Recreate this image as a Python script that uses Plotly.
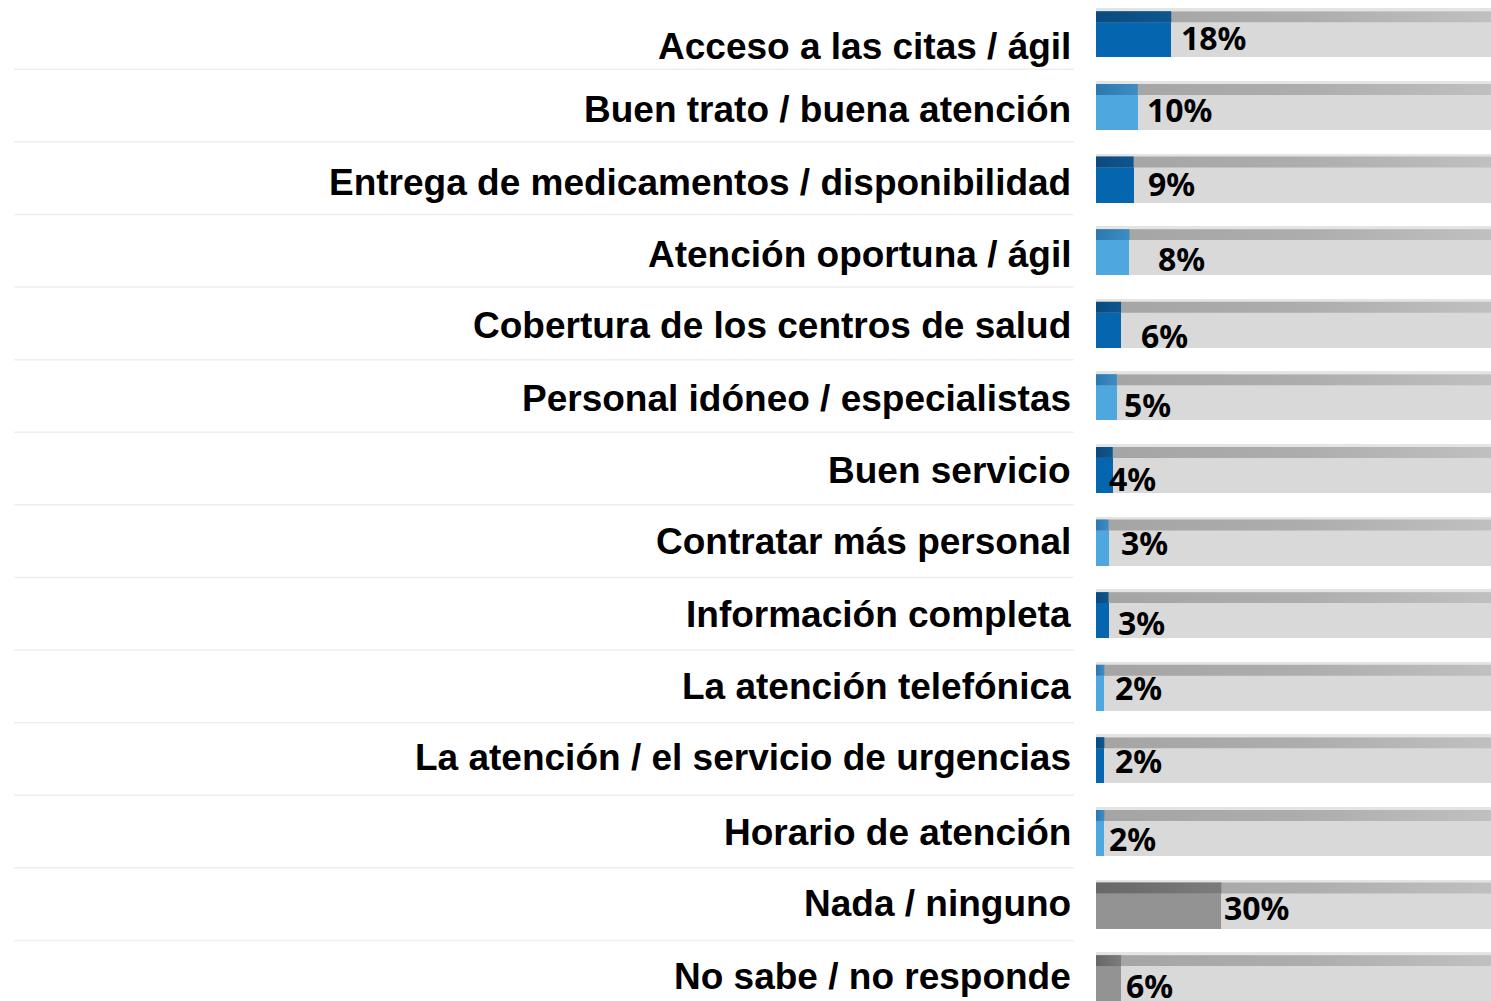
import plotly.graph_objects as go

# Survey answers and their share of respondents (%)
categories = [
    "Acceso a las citas / ágil",
    "Buen trato / buena atención",
    "Entrega de medicamentos / disponibilidad",
    "Atención oportuna / ágil",
    "Cobertura de los centros de salud",
    "Personal idóneo / especialistas",
    "Buen servicio",
    "Contratar más personal",
    "Información completa",
    "La atención telefónica",
    "La atención / el servicio de urgencias",
    "Horario de atención",
    "Nada / ninguno",
    "No sabe / no responde",
]
values = [18, 10, 9, 8, 6, 5, 4, 3, 3, 2, 2, 2, 30, 6]

# Styling per row
DARK, LIGHT, GREY = "#0565ae", "#4ea8df", "#939393"
DARK_TOP = ("#0a4a7e", "#0e5690")
LIGHT_TOP = ("#2c78ae", "#3d8dc4")
GREY_TOP = ("#676767", "#7c7c7c")
body_colors = [DARK, LIGHT] * 6 + [GREY, GREY]
top_colors = [DARK_TOP, LIGHT_TOP] * 6 + [GREY_TOP, GREY_TOP]

# Small pixel nudges for the text labels
value_dx = [8, 7, 12, 27, 18, 5, -6, 10, 7, 9, 9, 3, 1, 3]
value_dy = [-3, -2, -4, -6, -11, -7, -8, 0, -7, 0, 0, -5, -2, -7]
label_dy = [-12, -2, -3, -2, -1, -1, 0, 1, 1, 1, 3, 1, 2, 2]

TRACK_MAX = 100
BAR_W = 0.634
STRIP_W = 0.15
EDGE_W = 0.04

ypos = list(range(len(categories)))
n = len(categories)


def strip_polygon(rows, x_right):
    """Outline of the top strip of each bar, joined with gaps."""
    xs, ys = [], []
    for y, xr in zip(rows, x_right):
        y0 = y - BAR_W / 2
        y1 = y0 + STRIP_W
        xs += [0, xr, xr, 0, 0, None]
        ys += [y0, y0, y1, y1, y0, None]
    return xs, ys


fig = go.Figure()

# Grey background track
fig.add_trace(go.Bar(
    y=ypos, x=[TRACK_MAX] * n, orientation="h", width=BAR_W,
    marker=dict(color="#d9d9d9", line=dict(width=0)),
    hoverinfo="skip", showlegend=False,
))

# Thin light edge above each track
fig.add_trace(go.Bar(
    y=ypos, x=[TRACK_MAX] * n, orientation="h", width=EDGE_W,
    offset=-BAR_W / 2 - EDGE_W,
    marker=dict(color="#e4e4e4", line=dict(width=0)),
    hoverinfo="skip", showlegend=False,
))

# Value bars
fig.add_trace(go.Bar(
    y=ypos, x=values, orientation="h", width=BAR_W,
    marker=dict(color=body_colors, line=dict(width=0)),
    hoverinfo="skip", showlegend=False,
))

# Shaded strip along the top of every track (gradient fill)
sx, sy = strip_polygon(ypos, [TRACK_MAX] * n)
fig.add_trace(go.Scatter(
    x=sx, y=sy, mode="lines", fill="toself", line=dict(width=0),
    fillgradient=dict(type="horizontal",
                      colorscale=[[0, "#a4a4a4"], [0.5, "#adadad"], [1, "#c2c2c2"]]),
    hoverinfo="skip", showlegend=False,
))

# Darker shaded strip on top of each value bar
for y, v, (c0, c1) in zip(ypos, values, top_colors):
    bx, by = strip_polygon([y], [v])
    fig.add_trace(go.Scatter(
        x=bx, y=by, mode="lines", fill="toself", line=dict(width=0),
        fillgradient=dict(type="horizontal", colorscale=[[0, c0], [1, c1]]),
        hoverinfo="skip", showlegend=False,
    ))

annotations = []
for i, (cat, v) in enumerate(zip(categories, values)):
    annotations.append(dict(
        x=0, y=i, xref="x", yref="y", text=f"<b>{cat}</b>", showarrow=False,
        xanchor="right", yanchor="middle", xshift=-23, yshift=label_dy[i],
        font=dict(family="Liberation Sans, Arial, sans-serif", size=37, color="#000000"),
    ))
    annotations.append(dict(
        x=v, y=i, xref="x", yref="y", text=f"<b>{v}%</b>", showarrow=False,
        xanchor="left", yanchor="middle", xshift=value_dx[i], yshift=value_dy[i],
        font=dict(family="Noto Sans, Open Sans, sans-serif", size=32, color="#000000"),
    ))

# Separator lines in the label column
shapes = []
for k in range(n - 1):
    shapes.append(dict(
        type="line", xref="paper", yref="y",
        x0=-2.739, x1=-0.056, y0=k + 0.48, y1=k + 0.48,
        line=dict(color="#eeeeee", width=1.5),
    ))

fig.update_layout(
    width=1491, height=1001,
    margin=dict(l=1096, r=0, t=0, b=0),
    paper_bgcolor="#ffffff", plot_bgcolor="#ffffff",
    barmode="overlay", bargap=0,
    xaxis=dict(range=[0, 94.5], visible=False, fixedrange=True),
    yaxis=dict(range=[13.314, -0.474], visible=False, fixedrange=True),
    annotations=annotations, shapes=shapes,
)

fig.write_html("out.html")
